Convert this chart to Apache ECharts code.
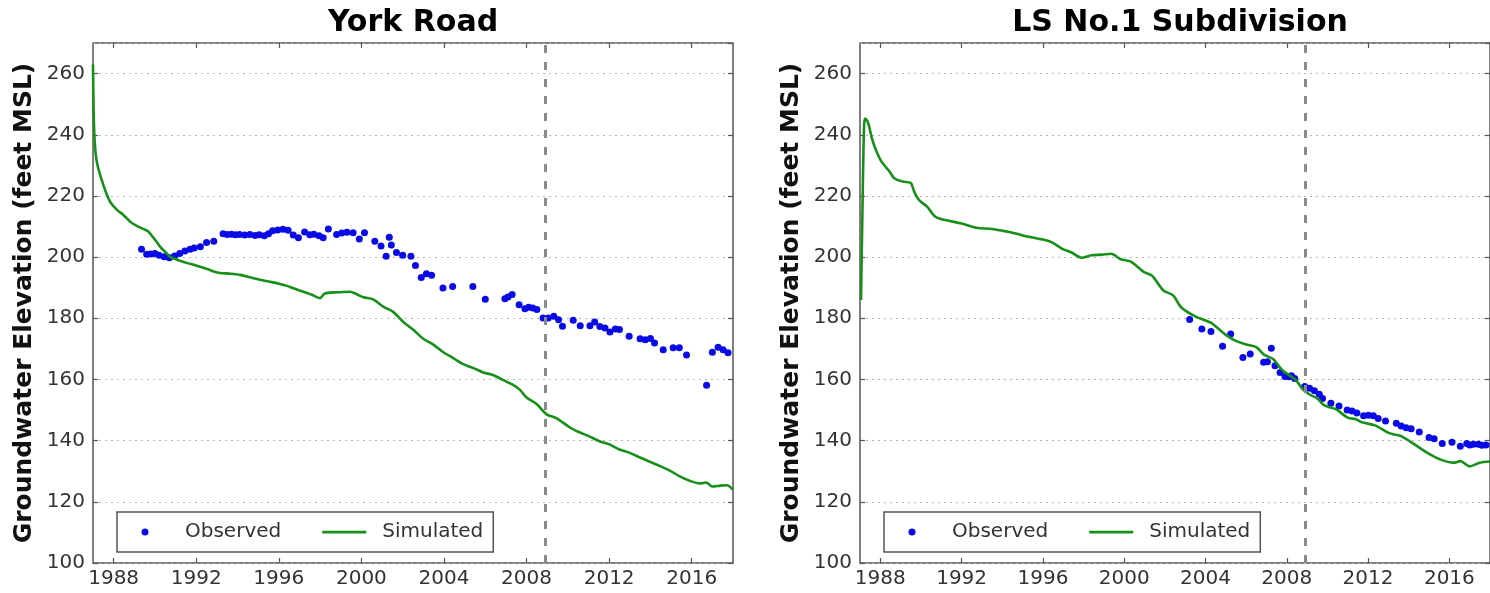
<!DOCTYPE html>
<html>
<head>
<meta charset="utf-8">
<script src="https://cdn.jsdelivr.net/npm/echarts@6/dist/echarts.min.js"></script>
<style>
  html, body { margin: 0; padding: 0; background: #fff; }
  #chart { width: 1490px; height: 593px; }
</style>
</head>
<body>
<div id="chart"></div>
<script>
// ---------------- DATA ----------------
const titles = ['York Road', 'LS No.1 Subdivision'];
const yAxisTitle = 'Groundwater Elevation (feet MSL)';
const xTickYears = [1988, 1992, 1996, 2000, 2004, 2008, 2012, 2016];
const calibrationEnd = 2008.9;

const yorkObserved = [
  [1989.35,202.6],[1989.6,200.9],[1989.8,201.0],[1990.0,201.2],[1990.2,200.6],[1990.45,200.1],[1990.7,199.8],
  [1990.95,200.4],[1991.2,201.2],[1991.45,202.0],[1991.7,202.6],[1991.9,203.0],[1992.2,203.4],[1992.5,204.8],
  [1992.85,205.2],[1993.3,207.6],[1993.5,207.4],[1993.7,207.5],[1993.9,207.3],[1994.1,207.4],[1994.35,207.2],
  [1994.6,207.4],[1994.85,207.1],[1995.05,207.3],[1995.3,207.0],[1995.5,207.6],[1995.7,208.6],[1995.95,208.9],
  [1996.2,209.1],[1996.45,208.8],[1996.7,207.2],[1996.95,206.3],[1997.25,208.2],[1997.5,207.3],[1997.7,207.5],
  [1997.95,207.0],[1998.15,206.3],[1998.4,209.2],[1998.8,207.4],[1999.05,207.9],[1999.3,208.1],[1999.6,208.0],
  [1999.9,205.9],[2000.15,208.0],[2000.65,205.2],[2000.95,203.6],[2001.2,200.3],[2001.35,206.5],[2001.45,204.0],
  [2001.7,201.5],[2002.0,200.6],[2002.4,200.3],[2002.62,197.3],[2002.9,193.3],[2003.15,194.6],[2003.4,194.1],
  [2003.95,189.9],[2004.42,190.4],[2005.4,190.4],[2006.0,186.2],[2006.95,186.4],[2007.1,187.0],[2007.3,187.8],
  [2007.64,184.4],[2007.92,183.1],[2008.1,183.6],[2008.3,183.4],[2008.5,182.9],[2008.8,180.1],[2009.05,180.1],
  [2009.32,180.7],[2009.55,179.5],[2009.74,177.4],[2010.26,179.4],[2010.6,177.6],[2011.07,177.6],[2011.3,178.8],
  [2011.55,177.3],[2011.8,176.8],[2012.04,175.5],[2012.3,176.5],[2012.5,176.3],[2012.97,174.1],[2013.5,173.3],
  [2013.75,173.0],[2014.0,173.4],[2014.2,171.9],[2014.62,169.7],[2015.1,170.4],[2015.4,170.4],[2015.75,168.0],
  [2016.72,158.1],[2017.0,168.9],[2017.28,170.5],[2017.52,169.7],[2017.76,168.7]
];

const yorkSimulated = [
  [1987.0,263],[1987.03,248],[1987.08,238],[1987.18,231.3],[1987.5,223.6],[1987.82,218.2],[1988.15,215.5],
  [1988.47,213.8],[1988.8,211.6],[1989.1,210.3],[1989.4,209.3],[1989.68,208.4],[1989.92,206.4],[1990.08,205.0],
  [1990.3,203.0],[1990.57,201.2],[1990.8,199.8],[1991.05,199.2],[1991.5,198.2],[1992.02,197.2],[1992.5,196.2],
  [1992.85,195.3],[1993.15,194.8],[1993.6,194.6],[1994.12,194.2],[1994.6,193.4],[1995.09,192.6],[1995.6,191.9],
  [1996.06,191.2],[1996.4,190.6],[1996.7,189.8],[1997.0,189.1],[1997.3,188.4],[1997.6,187.7],[1997.99,186.6],
  [1998.2,188.0],[1998.47,188.4],[1998.9,188.5],[1999.45,188.7],[1999.8,187.8],[2000.09,186.9],[2000.57,186.2],
  [2001.06,183.8],[2001.54,182.1],[2002.03,178.8],[2002.5,176.3],[2003.0,173.3],[2003.5,171.3],[2003.97,168.9],
  [2004.45,167.0],[2004.93,165.0],[2005.4,163.8],[2005.9,162.3],[2006.3,161.6],[2006.55,160.9],[2007.0,159.4],
  [2007.35,158.2],[2007.68,156.6],[2008.0,154.1],[2008.5,151.9],[2008.97,148.6],[2009.46,147.3],[2010.1,144.3],
  [2010.5,142.9],[2011.07,141.3],[2011.5,139.9],[2012.04,138.7],[2012.5,137.1],[2013.0,136.0],[2013.5,134.5],
  [2013.97,133.1],[2014.5,131.6],[2014.94,130.2],[2015.4,128.4],[2015.9,126.9],[2016.4,126.0],[2016.7,126.3],
  [2017.0,125.0],[2017.4,125.3],[2017.7,125.4],[2018.0,124.0]
];

const lsObserved = [
  [2003.22,179.6],[2003.82,176.5],[2004.27,175.7],[2004.84,170.9],[2005.24,174.9],[2005.84,167.2],[2006.2,168.3],
  [2006.86,165.6],[2007.05,165.8],[2007.24,170.2],[2007.42,164.5],[2007.67,162.3],[2007.91,161.0],[2008.1,160.9],
  [2008.23,161.2],[2008.39,160.3],[2008.88,157.7],[2009.12,157.1],[2009.36,156.3],[2009.6,155.2],[2009.76,153.8],
  [2010.17,152.2],[2010.57,151.3],[2010.97,150.0],[2011.21,149.7],[2011.45,149.0],[2011.78,148.1],[2012.02,148.3],
  [2012.26,148.1],[2012.5,147.2],[2012.86,146.4],[2013.39,145.7],[2013.63,144.8],[2013.87,144.2],[2014.12,143.9],
  [2014.52,142.8],[2015.0,141.0],[2015.25,140.6],[2015.65,139.1],[2016.13,139.5],[2016.54,138.2],[2016.86,139.1],
  [2017.0,138.6],[2017.18,138.8],[2017.43,138.8],[2017.6,138.5],[2017.8,138.6]
];

const lsSimulated = [
  [1987.05,186],[1987.12,215],[1987.2,243],[1987.26,245.3],[1987.4,243.9],[1987.6,238.5],[1987.81,234.6],
  [1988.05,231.3],[1988.45,228.0],[1988.69,225.8],[1989.1,224.7],[1989.5,224.2],[1989.66,221.5],[1989.9,218.7],
  [1990.3,216.5],[1990.71,213.2],[1991.2,212.1],[1992.0,211.0],[1992.8,209.5],[1993.4,209.3],[1994.02,208.6],
  [1994.5,208.0],[1995.0,207.1],[1995.5,206.4],[1995.96,205.8],[1996.45,204.8],[1996.93,202.8],[1997.41,201.5],
  [1997.9,199.8],[1998.38,200.6],[1998.9,200.8],[1999.35,201.1],[1999.83,199.3],[2000.32,198.5],[2000.96,195.2],
  [2001.37,193.9],[2001.93,189.1],[2002.41,187.5],[2002.8,183.6],[2003.47,180.7],[2004.28,178.5],[2004.6,176.8],
  [2005.0,174.6],[2005.5,172.6],[2005.97,171.5],[2006.5,170.6],[2006.86,168.2],[2007.34,166.6],[2007.74,163.3],
  [2008.1,161.5],[2008.45,159.8],[2008.79,156.8],[2009.15,155.0],[2009.5,153.8],[2009.85,151.5],[2010.41,150.3],
  [2011.0,147.5],[2011.4,147.0],[2011.7,146.0],[2012.34,145.0],[2012.99,142.6],[2013.3,142.0],[2013.63,141.5],
  [2014.28,138.8],[2014.92,136.0],[2015.57,133.8],[2016.21,132.8],[2016.54,133.3],[2017.0,131.6],[2017.5,132.8],
  [2018.0,133.2]
];

// ---------------- STYLE / LAYOUT ----------------
const FONT = 'DejaVu Sans';
const BLUE = '#0a0ae6';
const GREEN = '#17901a';
const FRAME = '#555555';
const grids = [
  { left: 93, top: 43, width: 640, height: 520 },
  { left: 860, top: 43, width: 640, height: 520 }
];
const X_MIN = 1987, X_MAX = 2018, Y_MIN = 100, Y_MAX = 270, Y_STEP = 20;

const obsIcon = 'path://M0,0M56,12M17.5,6a3.5,3.5 0 1,0 7,0a3.5,3.5 0 1,0 -7,0Z';
const simIcon = 'path://M0,0M56,12M1,4.8h44v2.6h-44Z';

const xAxes = [], yAxes = [], series = [], legends = [], titleList = [];
const datasets = [[yorkObserved, yorkSimulated], [lsObserved, lsSimulated]];

grids.forEach((g, i) => {
  const tick = { show: true, inside: true, length: 5, lineStyle: { color: FRAME, width: 1.2 } };
  xAxes.push({
    type: 'value', gridIndex: i, min: X_MIN, max: X_MAX, position: 'bottom',
    axisLine: { show: false }, splitLine: { show: false },
    axisTick: Object.assign({ customValues: xTickYears }, tick),
    axisLabel: { customValues: xTickYears, formatter: v => String(v), color: '#333', fontFamily: FONT, fontSize: 20, margin: 6 }
  });
  xAxes.push({
    type: 'value', gridIndex: i, min: X_MIN, max: X_MAX, position: 'top',
    axisLine: { show: false }, splitLine: { show: false },
    axisTick: Object.assign({ customValues: xTickYears }, tick),
    axisLabel: { show: false }
  });
  yAxes.push({
    type: 'value', gridIndex: i, min: Y_MIN, max: Y_MAX, interval: Y_STEP, position: 'left',
    name: yAxisTitle, nameLocation: 'middle', nameRotate: 90, nameGap: 56,
    nameTextStyle: { fontFamily: FONT, fontSize: 25, fontWeight: 'bold', color: '#111' },
    axisLine: { show: false },
    axisTick: tick,
    splitLine: { show: true, lineStyle: { color: '#b5b5b5', type: [2, 4], width: 1 } },
    axisLabel: { color: '#333', fontFamily: FONT, fontSize: 20, margin: 8, showMaxLabel: false }
  });
  yAxes.push({
    type: 'value', gridIndex: i, min: Y_MIN, max: Y_MAX, interval: Y_STEP, position: 'right',
    axisLine: { show: false }, splitLine: { show: false },
    axisTick: tick, axisLabel: { show: false }
  });

  series.push({
    name: 'Observed', type: 'scatter', xAxisIndex: 2 * i, yAxisIndex: 2 * i,
    data: datasets[i][0], symbol: 'circle', symbolSize: 7,
    itemStyle: { color: BLUE, opacity: 1 }, silent: true, z: 2
  });
  series.push({
    name: 'Simulated', type: 'line', xAxisIndex: 2 * i, yAxisIndex: 2 * i,
    data: datasets[i][1], showSymbol: false, smooth: 0.3,
    lineStyle: { color: GREEN, width: 2.6 }, itemStyle: { color: GREEN },
    silent: true, z: 3, clip: true,
    markLine: {
      silent: true, symbol: 'none', label: { show: false },
      lineStyle: { color: '#8a8a8a', type: [8, 9], width: 3 },
      data: [{ xAxis: calibrationEnd }]
    }
  });

  legends.push({
    left: g.left + 24, top: 512, orient: 'horizontal',
    selectedMode: false,
    itemWidth: 56, itemHeight: 12, itemGap: 40,
    padding: [9, 10, 9, 7],
    borderColor: FRAME, borderWidth: 1.5, backgroundColor: '#fff',
    textStyle: { fontFamily: FONT, fontSize: 20, color: '#333', lineHeight: 22 },
    data: [
      { name: 'Observed', icon: obsIcon, itemStyle: { color: BLUE, borderWidth: 0 } },
      { name: 'Simulated', icon: simIcon, itemStyle: { color: GREEN, borderWidth: 0 } }
    ]
  });

  titleList.push({
    text: titles[i], left: g.left + g.width / 2, top: 8, textAlign: 'center', padding: 0,
    textStyle: { fontFamily: FONT, fontSize: 30, fontWeight: 'bold', color: '#000' }
  });
});

const chart = echarts.init(document.getElementById('chart'), null, { renderer: 'canvas' });
chart.setOption({
  animation: false,
  backgroundColor: '#fff',
  title: titleList,
  legend: legends,
  grid: grids.map(g => Object.assign({ show: true, borderColor: FRAME, borderWidth: 1.5, backgroundColor: 'transparent', containLabel: false }, g)),
  xAxis: xAxes,
  yAxis: yAxes,
  series: series
});
</script>
</body>
</html>
